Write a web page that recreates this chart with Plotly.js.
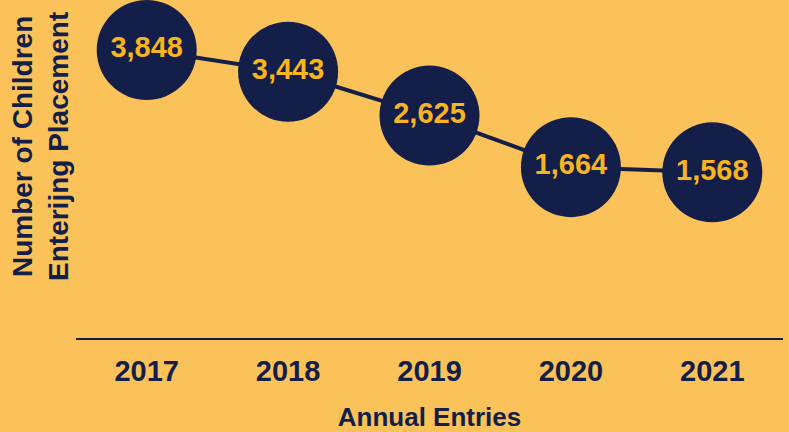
<!DOCTYPE html>
<html>
<head>
<meta charset="utf-8">
<script src="https://cdn.plot.ly/plotly-3.0.1.min.js"></script>
<style>
  html, body { margin: 0; padding: 0; background: #FCC25A; }
  #chart { width: 789px; height: 432px; }
</style>
</head>
<body>
<div id="chart"></div>
<script>
const years = ["2017", "2018", "2019", "2020", "2021"];
const entries = [3848, 3443, 2625, 1664, 1568];
const entryLabels = ["3,848", "3,443", "2,625", "1,664", "1,568"];

const bg = "#FCC25A";
const navy = "#131F48";
const gold = "#F9B41E";
const fontFam = "Liberation Sans, Arial, sans-serif";

const trace = {
  type: "scatter",
  mode: "lines+markers+text",
  x: years,
  y: entries,
  text: entryLabels,
  textposition: "middle center",
  textfont: { family: fontFam, size: 29, color: gold, weight: "bold" },
  line: { color: navy, width: 4 },
  marker: { size: 100, color: navy, line: { width: 0 } },
  cliponaxis: false,
  hoverinfo: "skip"
};

const layout = {
  width: 789,
  height: 432,
  paper_bgcolor: bg,
  plot_bgcolor: bg,
  margin: { l: 76, r: 6, t: 0, b: 94 },
  showlegend: false,
  xaxis: {
    type: "category",
    range: [-0.5, 4.5],
    showline: true,
    linecolor: navy,
    linewidth: 2,
    showgrid: false,
    zeroline: false,
    ticks: "",
    ticklabelstandoff: 6,
    tickfont: { family: fontFam, size: 29, color: navy, weight: "bold" },
    title: { text: "Annual Entries", font: { family: fontFam, size: 26, color: navy, weight: "bold" }, standoff: 22 }
  },
  yaxis: {
    range: [-1520, 4780],
    showline: false,
    showgrid: false,
    zeroline: false,
    showticklabels: false,
    ticks: ""
  },
  annotations: [{
    text: "Number of Children<br>Enterijng Placement",
    xref: "paper", yref: "paper",
    x: -0.051, y: 0.568,
    xanchor: "center", yanchor: "middle",
    textangle: -90,
    showarrow: false,
    font: { family: fontFam, size: 28, color: navy, weight: "bold" },
    align: "center"
  }]
};

Plotly.newPlot("chart", [trace], layout, { displayModeBar: false, staticPlot: true });
</script>
</body>
</html>
